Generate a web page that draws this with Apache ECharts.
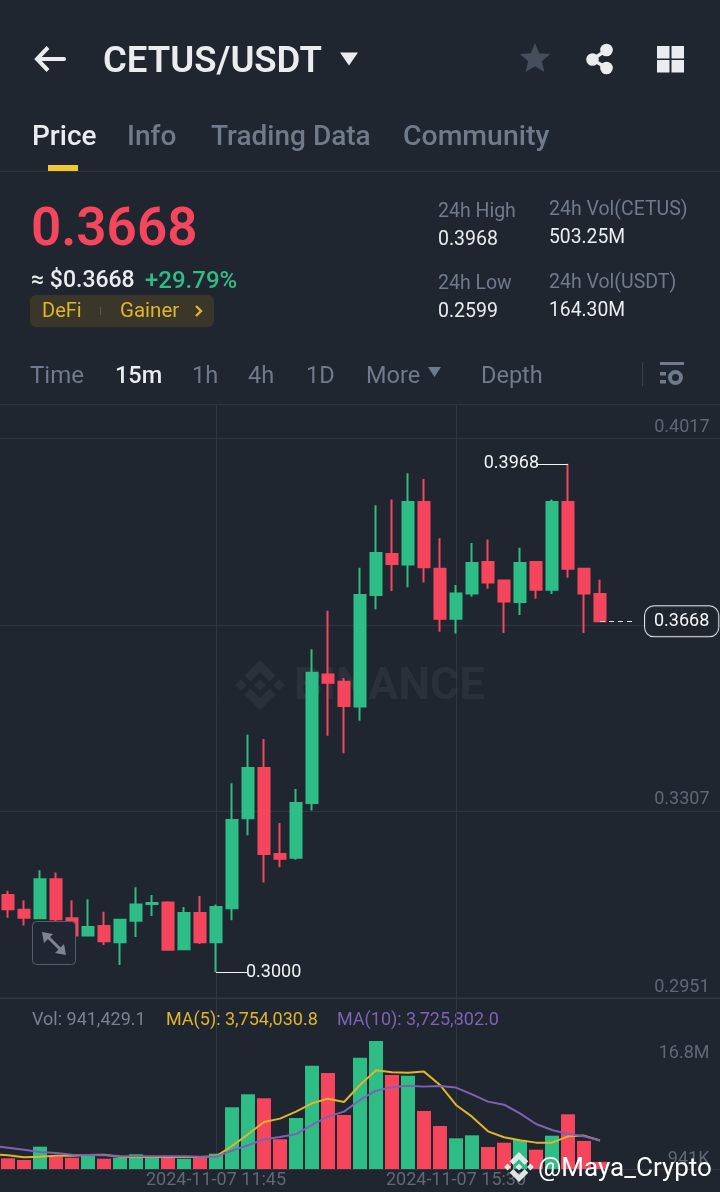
<!DOCTYPE html>
<html><head><meta charset="utf-8">
<style>html,body{margin:0;padding:0;background:#1f2630}#c{width:720px;height:1192px}</style>
<script src="https://cdn.jsdelivr.net/npm/echarts@6/dist/echarts.min.js"></script>
</head><body><div id="c"></div>
<script>
// one candle before the first visible one only contributes the MA line entry on the left edge
const times = ['2024-11-07 08:15','2024-11-07 08:30','2024-11-07 08:45','2024-11-07 09:00','2024-11-07 09:15','2024-11-07 09:30','2024-11-07 09:45','2024-11-07 10:00','2024-11-07 10:15','2024-11-07 10:30','2024-11-07 10:45','2024-11-07 11:00','2024-11-07 11:15','2024-11-07 11:30','2024-11-07 11:45','2024-11-07 12:00','2024-11-07 12:15','2024-11-07 12:30','2024-11-07 12:45','2024-11-07 13:00','2024-11-07 13:15','2024-11-07 13:30','2024-11-07 13:45','2024-11-07 14:00','2024-11-07 14:15','2024-11-07 14:30','2024-11-07 14:45','2024-11-07 15:00','2024-11-07 15:15','2024-11-07 15:30','2024-11-07 15:45','2024-11-07 16:00','2024-11-07 16:15','2024-11-07 16:30','2024-11-07 16:45','2024-11-07 17:00','2024-11-07 17:15','2024-11-07 17:30','2024-11-07 17:45'];
const futureSlots = ['','','','','','','',''];
const labelledTimes = ['2024-11-07 11:45','2024-11-07 15:30'];
const opens  = [.3147,.3119,.3103,.3177,.3103,.3070,.3088,.3057,.3098,.3130,.3133,.3044,.3113,.3057,.3122,.3293,.3389,.3225,.3218,.3322,.3567,.3553,.3506,.3718,.3796,.3776,.3895,.3768,.3673,.3721,.3781,.3746,.3705,.3781,.3728,.3895,.3768,.3720];
const closes = [.3120,.3104,.3177,.3101,.3070,.3086,.3059,.3100,.3129,.3132,.3043,.3113,.3057,.3124,.3290,.3389,.3225,.3216,.3322,.3570,.3551,.3507,.3718,.3798,.3777,.3895,.3771,.3673,.3721,.3779,.3742,.3706,.3779,.3728,.3895,.3768,.3721,.3668];
const lows   = [.3104,.3089,.3103,.3096,.3070,.3070,.3052,.3014,.3067,.3107,.3041,.3044,.3054,.3000,.3099,.3261,.3171,.3200,.3214,.3308,.3450,.3417,.3479,.3691,.3726,.3733,.3742,.3648,.3645,.3715,.3730,.3646,.3680,.3711,.3720,.3751,.3646,.3668];
const highs  = [.3155,.3137,.3194,.3190,.3137,.3139,.3115,.3100,.3162,.3147,.3135,.3124,.3145,.3129,.3360,.3452,.3444,.3284,.3349,.3615,.3688,.3560,.3770,.3889,.3900,.3950,.3939,.3826,.3737,.3817,.3824,.3746,.3808,.3781,.3900,.3968,.3768,.3747];
const volumes = [1.40,1.18,2.93,1.61,1.48,1.71,1.35,1.48,1.93,1.61,1.54,1.35,1.54,2.01,8.10,9.80,9.28,3.90,6.69,13.56,12.60,7.09,14.61,16.80,12.34,12.25,7.61,5.64,4.03,4.42,2.89,3.45,3.81,2.53,4.37,7.18,3.68,0.94];
const ma5  = [1.97,1.79,1.53,1.62,1.75,1.75,1.84,1.88,1.62,1.58,1.58,1.58,1.58,1.58,1.66,3.02,4.55,6.17,6.61,7.53,8.62,9.23,8.79,11.03,12.95,12.69,12.64,12.78,11.03,8.40,6.87,4.94,4.16,3.76,3.46,3.46,4.29,4.38,3.75];
const ma10 = [3.06,2.80,2.54,2.23,2.10,1.88,1.84,1.79,1.71,1.66,1.66,1.66,1.66,1.62,1.62,2.41,3.11,3.89,4.20,4.59,5.78,6.87,7.53,9.06,10.28,10.72,10.94,10.81,10.89,10.68,9.80,8.84,8.44,7.31,5.91,5.12,4.59,4.29,3.73];
const priceTicks = [0.2951,0.3307,0.3661,0.4017];
const volumeTicks = [0.941,16.8];
const lastPrice = 0.3668, highPrice = 0.3968, lowPrice = 0.3000;
const priceLabels = ['0.2951','0.3307','0.3661','0.4017'];

const BG='#1f2630', GREEN='#2ebd85', RED='#f6465d', GRID='#303743', GRAY='#6f7a8a', LIGHT='#eaecef', YEL='#e0b52a', PURP='#7f62b3';
const UI='Roboto';
const cats = times.concat(futureSlots);
const pad = a => ['-'].concat(a);
const candle = opens.map((o,i)=>[o,closes[i],lows[i],highs[i]]);
const volData = volumes.map((v,i)=>({value:v,itemStyle:{color:closes[i]>=opens[i]?GREEN:RED}}));
const hiIdx = highs.indexOf(highPrice)+1, loIdx = lows.indexOf(lowPrice)+1, lastIdx = opens.length;

function T(x,y,text,font,fill,extra){return Object.assign({type:'text',x,y,style:Object.assign({text,font,fill,verticalAlign:'middle'},{})},extra||{});}
function poly(points,fill,extra){return Object.assign({type:'polygon',shape:{points},style:{fill}},extra||{});}
function line(x1,y1,x2,y2,stroke,w,extra){return Object.assign({type:'line',shape:{x1,y1,x2,y2},style:{stroke,lineWidth:w,lineCap:'round'}},extra||{});}
function rect(x,y,w,h,fill,r,extra){return Object.assign({type:'rect',shape:{x,y,width:w,height:h,r:r||0},style:{fill}},extra||{});}
function logo(cx,cy,s,fill,extra){
  const P=a=>a.map(p=>[cx+p[0]*s,cy+p[1]*s]);
  const d=(x,y,r)=>P([[x,y-r],[x+r,y],[x,y+r],[x-r,y]]);
  return [poly(d(0,0,.23),fill,extra),poly(d(-.76,0,.23),fill,extra),poly(d(.76,0,.23),fill,extra),
    poly(P([[0,-1],[.62,-.38],[.38,-.14],[0,-.52],[-.38,-.14],[-.62,-.38]]),fill,extra),
    poly(P([[0,1],[.62,.38],[.38,.14],[0,.52],[-.38,.14],[-.62,.38]]),fill,extra)];
}
const star=[];for(let i=0;i<10;i++){const r=i%2?7.2:16,a=-Math.PI/2+i*Math.PI/5;star.push([535+r*Math.cos(a),59+r*Math.sin(a)]);}
const onTop={z:100};
const graphicEls=[
  // header
  {type:'polyline',shape:{points:[[48,47.5],[37,59],[48,70.5]]},style:{stroke:LIGHT,lineWidth:4,fill:null}},
  line(38,59,64,59,LIGHT,4),
  T(103,63,'CETUS/USDT','600 36.5px '+UI,LIGHT),
  poly([[340,52.5],[358,52.5],[349,65.5]],LIGHT),
  poly(star,'#454e5c'),
  line(607,50,592,59.5,LIGHT,3.4),line(592,59.5,607,68,LIGHT,3.4),
  {type:'circle',shape:{cx:606.5,cy:50,r:6.3},style:{fill:LIGHT}},
  {type:'circle',shape:{cx:592.5,cy:59.5,r:6.3},style:{fill:LIGHT}},
  {type:'circle',shape:{cx:606.5,cy:68,r:6.3},style:{fill:LIGHT}},
  rect(657,46,12.5,12.5,LIGHT),rect(671.5,46,12.5,12.5,LIGHT),rect(657,60,12.5,12.5,LIGHT),rect(671.5,60,12.5,12.5,LIGHT),
  // tabs
  T(32,137.5,'Price','500 28px '+UI,LIGHT),
  T(127,137.5,'Info','500 28px '+UI,GRAY),
  T(211,137.5,'Trading Data','500 28px '+UI,GRAY),
  T(403,137.5,'Community','500 28.4px '+UI,GRAY),
  rect(48,165,30,6,'#f0c92e'),
  rect(0,171,720,1,GRID),
  // price block
  T(31,231.5,'0.3668','600 53px '+UI,RED),
  T(31,281.5,'≈ $0.3668','500 23px '+UI,LIGHT),
  T(145,281.5,'+29.79%','500 24px '+UI,GREEN),
  rect(30,295,184,32,'#3a3629',6),
  T(42,312,'DeFi','400 20px '+UI,YEL),
  rect(100,307,1,8,'#5f5a3a'),
  T(120,312,'Gainer','400 20.5px '+UI,YEL),
  {type:'polyline',shape:{points:[[196,306],[201,311],[196,316]]},style:{stroke:YEL,lineWidth:2.4,fill:null}},
  T(438,212.5,'24h High','400 19.5px '+UI,GRAY),
  T(438,240,'0.3968','400 19.5px '+UI,LIGHT),
  T(438,284.5,'24h Low','400 19.5px '+UI,GRAY),
  T(438,312,'0.2599','400 19.5px '+UI,LIGHT),
  T(549,210.5,'24h Vol(CETUS)','400 19.5px '+UI,GRAY),
  T(549,238,'503.25M','400 19.3px '+UI,LIGHT),
  T(549,283.5,'24h Vol(USDT)','400 19.5px '+UI,GRAY),
  T(549,311,'164.30M','400 19.3px '+UI,LIGHT),
  // intervals
  T(30,377,'Time','400 24px '+UI,GRAY),
  T(115,377,'15m','500 23.5px '+UI,LIGHT),
  T(192,377,'1h','400 23.5px '+UI,GRAY),
  T(248,377,'4h','400 23.5px '+UI,GRAY),
  T(306,377,'1D','400 23.5px '+UI,GRAY),
  T(366,377,'More','400 23.5px '+UI,GRAY),
  poly([[428,367],[441,367],[434.5,377]],GRAY),
  T(481,377,'Depth','400 23.5px '+UI,GRAY),
  rect(642,362,1,24,'#3a424f'),
  rect(660,362,24,3,GRAY),rect(660,372,6,3.5,GRAY),rect(660,380,6,3.5,GRAY),
  {type:'circle',shape:{cx:675.5,cy:377.5,r:5.5},style:{fill:'none',stroke:GRAY,lineWidth:4}},
  // background watermark (stays beneath the series)
  ...logo(260,685,25,'#2b303b'),
  T(294,688,'BINANCE','700 45px '+UI,'#2b303b'),
  // volume legend
  T(32,1020,'Vol: 941,429.1','400 18px '+UI,'#79828f'),
  T(166,1020,'MA(5): 3,754,030.8','400 18px '+UI,YEL),
  T(337,1020,'MA(10): 3,725,802.0','400 18px '+UI,PURP),
  // expand button
  Object.assign(rect(32.5,921.5,43,43,'#1f2630',4,{z:50}),{style:{fill:'rgba(33,39,50,1)',stroke:'#565e6b',lineWidth:1}}),
  line(48,937,60,949,'#7d8592',3,{z:51}),
  poly([[42,932],[53,934],[44,943]],'#7d8592',{z:51}),
  poly([[66,955],[55,953],[64,944]],'#7d8592',{z:51}),
  // overlay signature
  ...logo(519,1167,15,'#dfe6e6',onTop),
  T(538,1169,'@Maya_Crypto','400 26px '+UI,'#ffffff',onTop)
];

const option={
  animation:false,backgroundColor:BG,
  graphic:{elements:graphicEls},
  grid:[
    {left:-16,top:404.5,width:752,height:593.5,show:true,borderColor:GRID,borderWidth:1,backgroundColor:'transparent',outerBoundsMode:'none'},
    {left:-16,top:998,width:752,height:171,outerBoundsMode:'none'}
  ],
  xAxis:[
    {type:'category',gridIndex:0,data:cats,boundaryGap:true,axisLine:{show:false},axisTick:{show:false},axisLabel:{show:false},
     splitLine:{show:true,alignWithLabel:true,interval:(i,v)=>labelledTimes.includes(v),lineStyle:{color:GRID,width:1}}},
    {type:'category',gridIndex:1,data:cats,boundaryGap:true,axisLine:{show:true,lineStyle:{color:GRID,width:1}},axisTick:{show:false},
     axisLabel:{show:true,interval:(i,v)=>labelledTimes.includes(v),color:'#5f6875',fontFamily:UI,fontSize:18,margin:2},
     splitLine:{show:true,alignWithLabel:true,interval:(i,v)=>labelledTimes.includes(v),lineStyle:{color:GRID,width:1}}}
  ],
  yAxis:[
    {type:'value',gridIndex:0,position:'right',min:0.2951,max:0.40808,scale:true,
     axisLine:{show:false},axisTick:{show:false,customValues:priceTicks},
     axisLabel:{inside:true,customValues:priceTicks,formatter:v=>priceLabels[priceTicks.indexOf(v)],color:'#5f6875',fontFamily:UI,fontSize:18,margin:26.5,verticalAlign:'bottom',padding:[0,0,2,0],showMinLabel:true,showMaxLabel:true},
     splitLine:{show:true,lineStyle:{color:GRID,width:1}}},
    {type:'value',gridIndex:1,position:'right',min:0,max:22.44,
     axisLine:{show:false},axisTick:{show:false,customValues:volumeTicks},
     axisLabel:{inside:true,customValues:volumeTicks,margin:26.5,color:'#5f6875',fontFamily:UI,fontSize:18,
       formatter:v=>v>10?'{a|16.8M}':'{b|941K}',
       rich:{a:{padding:[26,0,0,0],color:'#5f6875',fontFamily:UI,fontSize:18},b:{padding:[0,0,5,0],color:'#5f6875',fontFamily:UI,fontSize:18}}},
     splitLine:{show:false}}
  ],
  series:[
    {type:'candlestick',xAxisIndex:0,yAxisIndex:0,data:pad(candle),barWidth:12,
     itemStyle:{color:GREEN,color0:RED,borderColor:GREEN,borderColor0:RED,borderWidth:2},
     markLine:{silent:true,symbol:'none',animation:false,precision:4,data:[
       [{coord:[hiIdx,highPrice]},{coord:[hiIdx-2,highPrice],label:{show:true,position:'end',offset:[3,0],formatter:highPrice.toFixed(4),color:'#f0f2f4',fontFamily:UI,fontSize:18,distance:0},lineStyle:{color:'#f0f2f4',width:1,type:'solid'}}],
       [{coord:[loIdx,lowPrice]},{coord:[loIdx+2,lowPrice],label:{show:true,position:'end',offset:[-2,0],formatter:lowPrice.toFixed(4),color:'#f0f2f4',fontFamily:UI,fontSize:18,distance:0},lineStyle:{color:'#f0f2f4',width:1,type:'solid'}}],
       [{coord:[lastIdx,lastPrice]},{coord:[lastIdx+2,lastPrice],label:{show:true,position:'end',distance:13,formatter:lastPrice.toFixed(4),color:'#f5f6f7',fontFamily:UI,fontSize:18,backgroundColor:'rgba(31,38,48,0.9)',borderColor:'#dfe2e6',borderWidth:1,borderRadius:9,padding:[7,9,5,9]},lineStyle:{color:'#dfe2e6',width:1,type:[5,4]}}]
     ]}},
    {type:'bar',xAxisIndex:1,yAxisIndex:1,data:pad(volData),barWidth:14},
    {type:'line',xAxisIndex:1,yAxisIndex:1,data:ma5,symbol:'none',lineStyle:{color:YEL,width:2},z:3},
    {type:'line',xAxisIndex:1,yAxisIndex:1,data:ma10,symbol:'none',lineStyle:{color:PURP,width:2},z:4}
  ]
};
echarts.init(document.getElementById('c'),null,{renderer:'canvas'}).setOption(option);
</script></body></html>
